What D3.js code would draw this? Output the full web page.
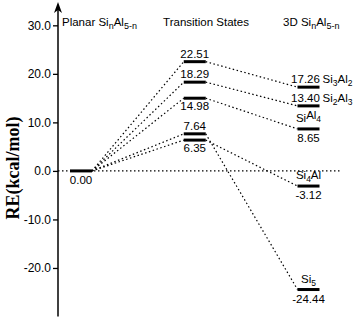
<!DOCTYPE html>
<html>
<head>
<meta charset="utf-8">
<script src="https://cdn.jsdelivr.net/npm/d3@7"></script>
<style>
  body { margin: 0; background: #fff; }
  svg { display: block; font-family: "Liberation Sans", Arial, sans-serif; }
</style>
</head>
<body>
<svg width="354" height="319"></svg>
<script>
// data
let columns = ["planar", "ts", "3d"];
let planarValue = 0.00;
let tsValues = [22.51, 18.29, 14.98, 7.64, 6.35];
let productValues = [17.26, 13.40, 8.65, -24.44, -3.12];
let productNames = [["Si","3","Al","2"], ["Si","2","Al","3"], ["Si","","Al","4"], ["Si","5","",""], ["Si","4","Al",""]];
let tickValues = [-20, -10, 0, 10, 20, 30];

// label placement (style only)
let tsLabelSide = ["above", "above", "below", "above", "below"];
let productLabelStyle = ["inline", "inline", "stack", "stack", "stack"];

let svg = d3.select('svg');
let axisX = 58;
let halfBar = 11;

let yScale = d3.scaleLinear()
    .domain([-30, 34.6])
    .range([316.5, 3]);

let xScale = d3.scalePoint()
    .domain(columns)
    .range([81, 308.5]);

// y axis
let yAxis = d3.axisLeft(yScale)
    .tickValues(tickValues)
    .tickSize(5)
    .tickFormat(d => d.toFixed(1));

let gy = svg.append('g')
    .attr('transform', 'translate(' + axisX + ',0)')
    .call(yAxis);
gy.select('.domain').remove();
gy.selectAll('.tick line').attr('stroke', '#000').attr('stroke-width', 1.3);
gy.selectAll('.tick text')
    .attr('x', -7)
    .attr('fill', '#000')
    .style('font-size', '12px')
    .style('font-family', '"Liberation Sans", Arial, sans-serif');

svg.append('line')
    .attr('x1', axisX).attr('x2', axisX)
    .attr('y1', yScale.range()[0]).attr('y2', 6)
    .attr('stroke', '#000').attr('stroke-width', 1.5);
svg.append('path')
    .attr('d', 'M' + axisX + ',2 L' + (axisX - 4) + ',13 L' + axisX + ',10 L' + (axisX + 4) + ',13 Z')
    .attr('fill', '#000');

svg.append('text')
    .attr('transform', 'translate(19,' + 168 + ') rotate(-90)')
    .attr('text-anchor', 'middle')
    .style('font-family', '"Liberation Serif", "Times New Roman", serif')
    .style('font-weight', 'bold')
    .style('font-size', '18px')
    .text('RE(kcal/mol)');

// column headers
let addFormula = (sel, parts, big, small) => {
    parts.forEach((p, i) => {
        if (!p) return;
        let t = sel.append('tspan').text(p);
        if (i % 2 == 1) {
            t.style('font-size', small + 'px').attr('dy', 3);
        } else if (i > 0) {
            t.attr('dy', -3);
        }
    });
};

let header = (x, prefix, anchor) => {
    let t = svg.append('text')
        .attr('x', x).attr('y', 26)
        .attr('text-anchor', anchor)
        .style('font-size', '11.5px');
    t.append('tspan').text(prefix + 'Si');
    t.append('tspan').text('n').attr('dy', 3).style('font-size', '9px');
    t.append('tspan').text('Al').attr('dy', -3);
    t.append('tspan').text('5-n').attr('dy', 3).style('font-size', '9px');
};
header(62, 'Planar ', 'start');
svg.append('text')
    .attr('x', 206).attr('y', 26)
    .attr('text-anchor', 'middle')
    .style('font-size', '11.5px')
    .text('Transition States');
header(283, '3D ', 'start');

// dotted connectors
let dotted = (x1, y1, x2, y2) => {
    svg.append('line')
        .attr('x1', x1).attr('y1', y1)
        .attr('x2', x2).attr('y2', y2)
        .attr('stroke', '#000')
        .attr('stroke-width', 1.2)
        .attr('stroke-dasharray', '1.5 2.5');
};

let xP = xScale('planar'), xT = xScale('ts'), x3 = xScale('3d');

dotted(axisX, yScale(planarValue), 340, yScale(planarValue));
tsValues.forEach((v, i) => {
    dotted(xP + halfBar, yScale(planarValue), xT - halfBar, yScale(v));
    dotted(xT + halfBar, yScale(v), x3 - halfBar, yScale(productValues[i]));
});

// level bars
let levels = [{x: xP, v: planarValue}]
    .concat(tsValues.map(v => ({x: xT, v: v})))
    .concat(productValues.map(v => ({x: x3, v: v})));

svg.selectAll('rect.level')
    .data(levels)
    .enter()
    .append('rect')
    .attr('class', 'level')
    .attr('x', d => d.x - halfBar)
    .attr('y', d => yScale(d.v) - 1.5)
    .attr('width', halfBar * 2)
    .attr('height', 3)
    .attr('fill', '#000');

// value labels
svg.append('text')
    .attr('x', xP).attr('y', yScale(planarValue) + 13)
    .attr('text-anchor', 'middle')
    .style('font-size', '11.5px')
    .text(planarValue.toFixed(2));

svg.selectAll('text.ts')
    .data(tsValues)
    .enter()
    .append('text')
    .attr('class', 'ts')
    .attr('x', xT)
    .attr('y', (d, i) => yScale(d) + (tsLabelSide[i] == 'above' ? -4 : 12))
    .attr('text-anchor', 'middle')
    .style('font-size', '11.5px')
    .text(d => d.toFixed(2));

productValues.forEach((v, i) => {
    let y = yScale(v);
    if (productLabelStyle[i] == 'inline') {
        svg.append('text')
            .attr('x', x3 - 3).attr('y', y - 4)
            .attr('text-anchor', 'middle')
            .style('font-size', '11.5px')
            .text(v.toFixed(2));
        let t = svg.append('text')
            .attr('x', x3 + 14).attr('y', y - 4)
            .style('font-size', '11.5px');
        addFormula(t, productNames[i], 11.5, 8.5);
    } else {
        let t = svg.append('text')
            .attr('x', x3).attr('y', y - 7)
            .attr('text-anchor', 'middle')
            .style('font-size', '11.5px');
        addFormula(t, productNames[i], 11.5, 8.5);
        svg.append('text')
            .attr('x', x3).attr('y', y + 13)
            .attr('text-anchor', 'middle')
            .style('font-size', '11.5px')
            .text(v.toFixed(2));
    }
});
</script>
</body>
</html>
